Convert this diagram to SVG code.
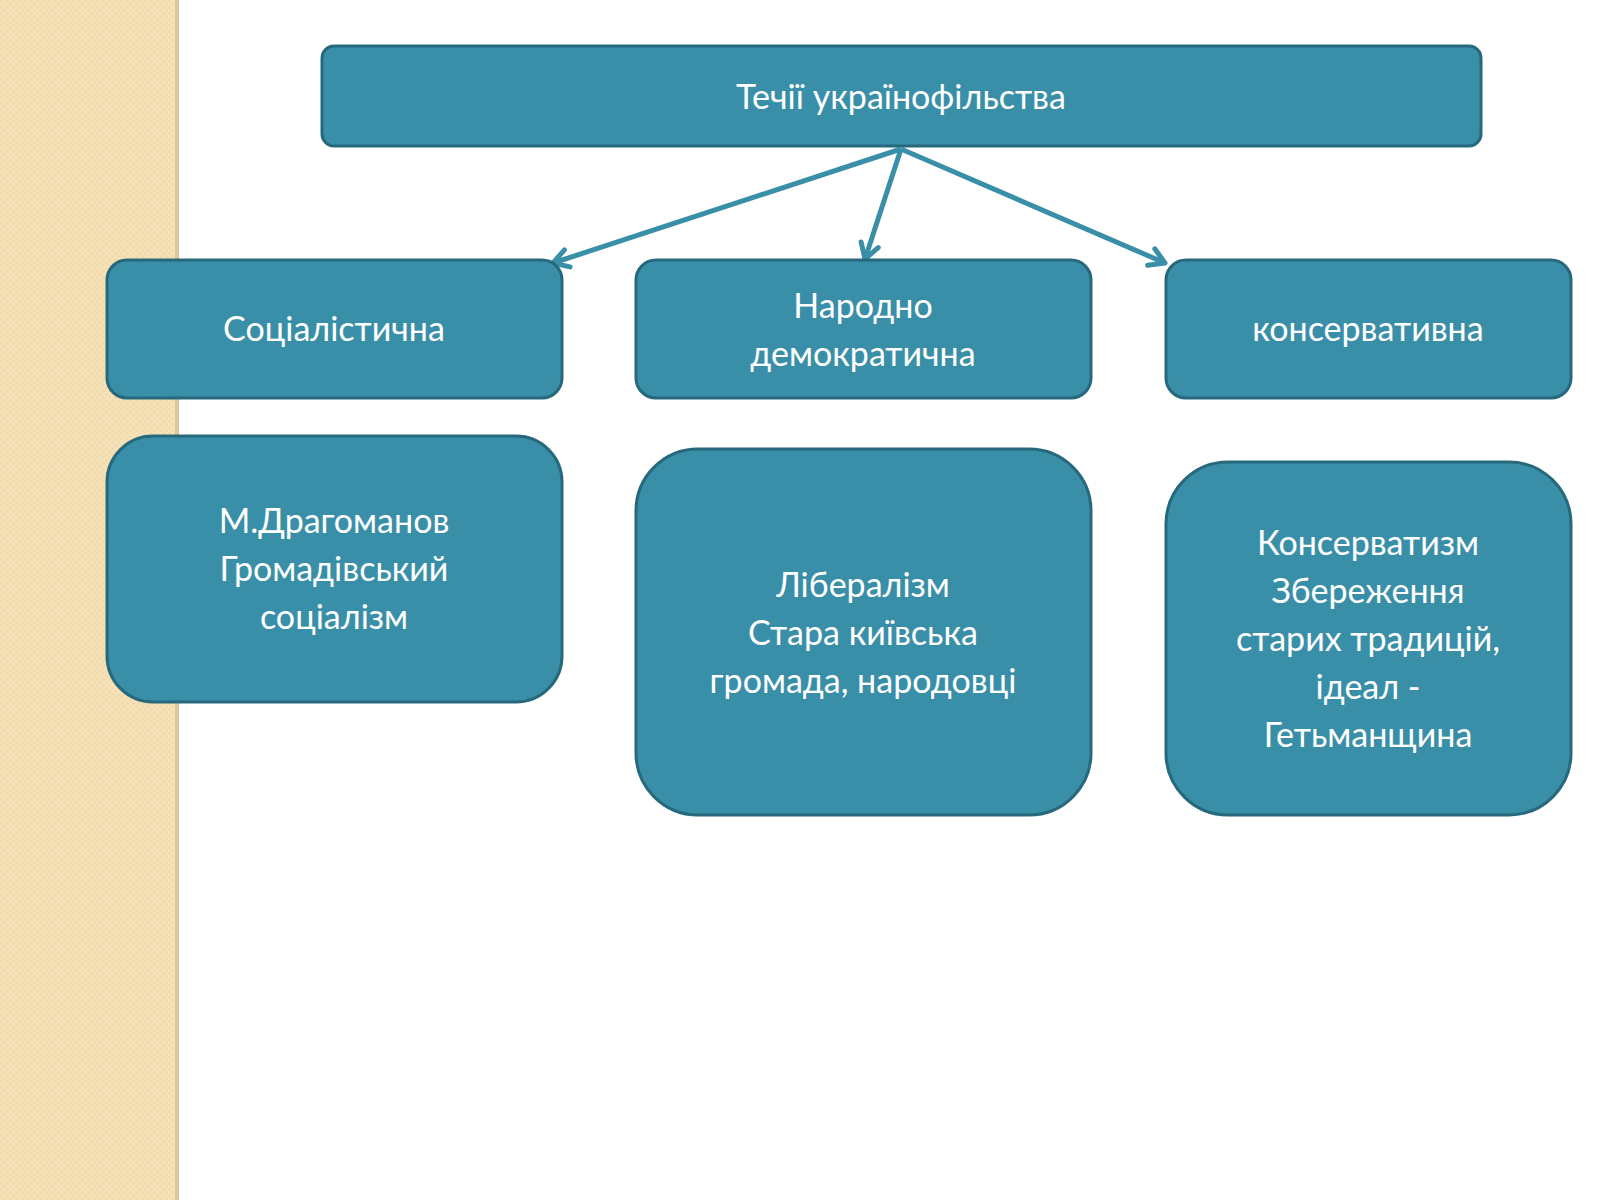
<svg xmlns="http://www.w3.org/2000/svg" width="1600" height="1200" viewBox="0 0 1600 1200">
<defs>
<pattern id="p" width="6" height="6" patternUnits="userSpaceOnUse"><rect width="6" height="6" fill="#f6e2b8"/><circle cx="1.5" cy="1.5" r="1" fill="#ecd3a0"/><circle cx="4.5" cy="4.5" r="1" fill="#ecd3a0"/></pattern>
<marker id="a" viewBox="0 0 20 20" refX="17" refY="10" markerWidth="20" markerHeight="20" orient="auto" markerUnits="userSpaceOnUse" style="overflow:visible"><path d="M2,1 L17,10 L2,19" fill="none" stroke="#3a8fa8" stroke-width="5" stroke-linecap="round" stroke-linejoin="round"/></marker>
</defs>
<style>
.b{fill:#3a8fa8;stroke:#26687c;stroke-width:3}
.t{fill:#fff;font-family:Lato,"Open Sans",sans-serif;font-size:34px;text-anchor:middle}
.c{stroke:#3a8fa8;stroke-width:5;fill:none}
</style>
<rect width="1600" height="1200" fill="#fff"/>
<rect width="178" height="1200" fill="url(#p)"/>
<rect x="175" width="4" height="1200" fill="#dcc79a"/>
<g id="connectors">
<line class="c" x1="901" y1="149" x2="553" y2="263" marker-end="url(#a)"/>
<line class="c" x1="901" y1="149" x2="865" y2="259" marker-end="url(#a)"/>
<line class="c" x1="901" y1="149" x2="1165" y2="263" marker-end="url(#a)"/>
</g>
<g id="top"><rect class="b" x="322" y="46" width="1159" height="100" rx="12"/><text class="t" x="901" y="109">Течії українофільства</text></g>
<g id="n1"><rect class="b" x="107" y="260" width="455" height="138" rx="20"/><text class="t" x="334" y="341">Соціалістична</text></g>
<g id="n2"><rect class="b" x="636" y="260" width="455" height="138" rx="20"/><text class="t" x="863" y="318">Народно</text><text class="t" x="863" y="366">демократична</text></g>
<g id="n3"><rect class="b" x="1166" y="260" width="405" height="138" rx="20"/><text class="t" x="1368" y="341">консервативна</text></g>
<g id="d1"><rect class="b" x="107" y="436" width="455" height="266" rx="46"/><text class="t" x="334" y="533">М.Драгоманов</text><text class="t" x="334" y="581">Громадівський</text><text class="t" x="334" y="629">соціалізм</text></g>
<g id="d2"><rect class="b" x="636" y="449" width="455" height="366" rx="62"/><text class="t" x="863" y="597">Лібералізм</text><text class="t" x="863" y="645">Стара київська</text><text class="t" x="863" y="693">громада, народовці</text></g>
<g id="d3"><rect class="b" x="1166" y="462" width="405" height="353" rx="62"/><text class="t" x="1368" y="555">Консерватизм</text><text class="t" x="1368" y="603">Збереження</text><text class="t" x="1368" y="651">старих традицій,</text><text class="t" x="1368" y="699">ідеал -</text><text class="t" x="1368" y="747">Гетьманщина</text></g>
</svg>
